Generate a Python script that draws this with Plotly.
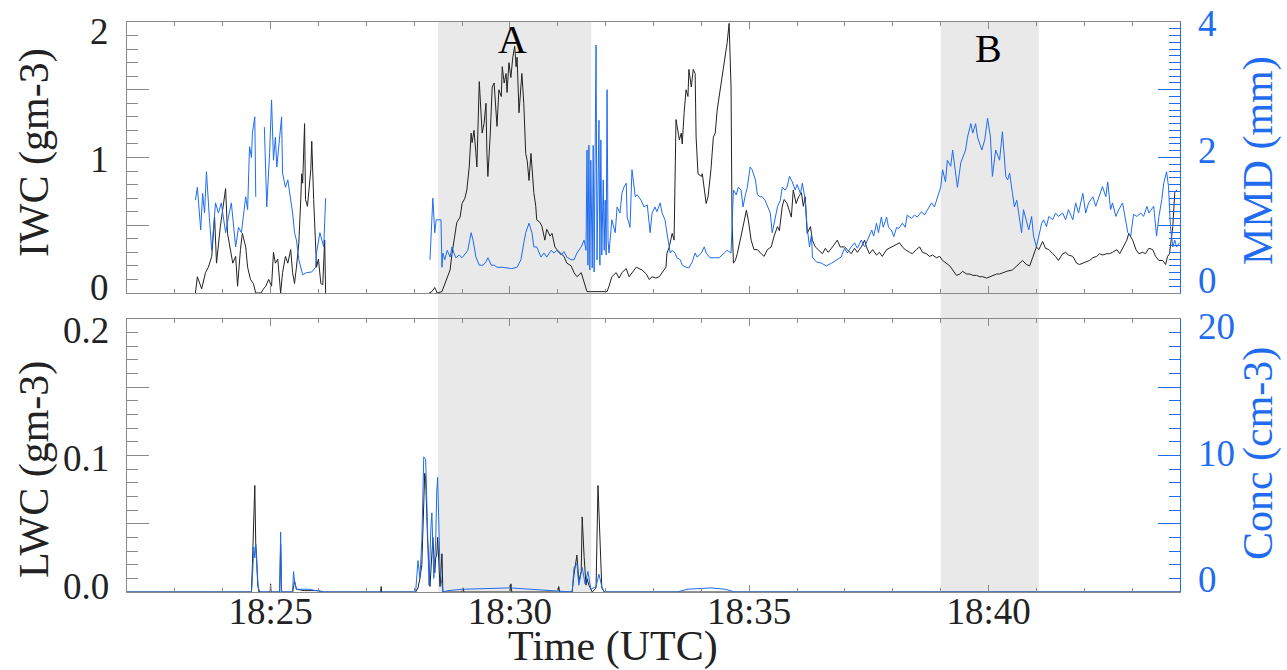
import plotly.graph_objects as go

# ---------------- data (time in minutes after 18:00 UTC) ----------------
iwc_samples = [
    (23.43, 0.00), (23.47, 0.12), (23.56, 0.03), (23.64, 0.15), (23.70, 0.19), (23.77, 0.27),
    (23.83, 0.56), (23.87, 0.22), (23.95, 0.49), (24.00, 0.61), (24.06, 0.77), (24.10, 0.44),
    (24.16, 0.30), (24.21, 0.22), (24.27, 0.27), (24.31, 0.05), (24.37, 0.32), (24.41, 0.44),
    (24.48, 0.34), (24.52, 0.19), (24.58, 0.10), (24.64, 0.07), (24.69, 0.00), (24.80, 0.00),
    (24.85, 0.03), (24.90, 0.05), (24.96, 0.10), (25.02, 0.05), (25.06, 0.30), (25.10, 0.22),
    (25.15, 0.25), (25.21, 0.00), (25.25, 0.15), (25.31, 0.27), (25.36, 0.22), (25.42, 0.32),
    (25.46, 0.15), (25.50, 0.07), (25.54, 0.19), (25.59, 0.37), (25.63, 0.69), (25.65, 0.88),
    (25.67, 0.81), (25.71, 1.25), (25.73, 0.69), (25.77, 0.64), (25.84, 0.91), (25.86, 1.12),
    (25.90, 0.69), (25.94, 0.39), (25.96, 0.19), (26.00, 0.25), (26.05, 0.07), (26.09, 0.06),
    (26.13, 0.39), (26.15, 0.00), (None, None),
    (28.31, 0.00), (28.37, 0.01), (28.43, 0.04), (28.48, 0.00), (28.58, 0.01), (28.62, 0.05),
    (28.69, 0.11), (28.75, 0.17), (28.79, 0.29), (28.85, 0.42), (28.89, 0.52), (28.96, 0.56),
    (29.00, 0.66), (29.06, 0.70), (29.10, 0.76), (29.15, 0.93), (29.19, 1.18), (29.21, 1.11),
    (29.25, 1.20), (29.29, 1.03), (29.31, 0.93), (29.36, 1.56), (29.40, 1.28), (29.42, 1.18),
    (29.46, 1.25), (29.50, 1.40), (29.52, 1.03), (29.54, 0.86), (29.59, 1.18), (29.63, 1.52),
    (29.67, 1.55), (29.71, 1.37), (29.73, 1.23), (29.77, 1.50), (29.82, 1.45), (29.84, 1.67),
    (29.88, 1.55), (29.92, 1.62), (29.94, 1.48), (29.98, 1.70), (30.02, 1.59), (30.06, 1.74),
    (30.10, 1.82), (30.13, 1.67), (30.15, 1.74), (30.19, 1.33), (30.23, 1.52), (30.25, 1.62),
    (30.29, 1.40), (30.33, 1.03), (30.36, 0.98), (30.40, 0.83), (30.44, 1.03), (30.46, 0.93),
    (30.50, 0.74), (30.54, 0.64), (30.56, 0.54), (30.63, 0.52), (30.67, 0.49), (30.73, 0.39),
    (30.77, 0.47), (30.84, 0.42), (30.88, 0.44), (30.94, 0.34), (30.98, 0.32), (31.07, 0.29),
    (31.13, 0.27), (31.19, 0.22), (31.28, 0.20), (31.34, 0.15), (31.40, 0.12), (31.49, 0.15),
    (31.55, 0.07), (31.61, 0.01), (31.69, 0.01), (31.90, 0.01), (32.03, 0.01), (32.07, 0.05),
    (32.13, 0.12), (32.22, 0.15), (32.28, 0.11), (32.34, 0.15), (32.43, 0.18), (32.49, 0.12),
    (32.55, 0.15), (32.64, 0.19), (32.70, 0.18), (32.76, 0.17), (32.85, 0.14), (32.91, 0.10),
    (32.97, 0.12), (33.05, 0.11), (33.12, 0.12), (33.18, 0.15), (33.26, 0.19), (33.28, 0.29),
    (33.33, 0.34), (33.39, 0.44), (33.43, 0.39), (33.47, 1.28), (33.49, 1.23), (33.54, 1.13),
    (33.58, 1.18), (33.60, 1.10), (33.64, 1.33), (33.68, 1.50), (33.72, 1.45), (33.74, 1.65),
    (33.79, 1.52), (33.83, 1.65), (33.87, 1.62), (33.89, 1.15), (33.93, 0.88), (34.00, 0.86),
    (34.02, 0.88), (34.08, 0.74), (34.10, 0.66), (34.14, 0.71), (34.20, 0.91), (34.25, 1.15),
    (34.29, 1.18), (34.33, 1.35), (34.39, 1.50), (34.44, 1.59), (34.48, 1.69), (34.52, 1.79),
    (34.54, 1.85), (34.58, 1.99), (34.62, 1.52), (34.64, 0.54), (34.67, 0.22), (34.71, 0.24),
    (34.75, 0.29), (34.83, 0.42), (34.90, 0.54), (34.94, 0.61), (34.98, 0.54), (35.04, 0.39),
    (35.10, 0.32), (35.17, 0.32), (35.25, 0.29), (35.31, 0.27), (35.38, 0.32), (35.46, 0.34),
    (35.52, 0.42), (35.59, 0.49), (35.63, 0.46), (35.69, 0.64), (35.73, 0.69), (35.79, 0.66),
    (35.88, 0.56), (35.92, 0.76), (35.98, 0.66), (36.03, 0.71), (36.09, 0.74), (36.13, 0.64),
    (36.17, 0.71), (36.21, 0.44), (36.28, 0.49), (36.32, 0.39), (36.38, 0.34), (36.44, 0.32),
    (36.53, 0.29), (36.59, 0.33), (36.65, 0.30), (36.74, 0.34), (36.80, 0.37), (36.84, 0.39),
    (36.90, 0.34), (36.99, 0.34), (37.05, 0.32), (37.13, 0.29), (37.20, 0.33), (37.26, 0.30),
    (37.34, 0.34), (37.41, 0.39), (37.45, 0.34), (37.51, 0.29), (37.58, 0.32), (37.66, 0.28),
    (37.72, 0.30), (37.78, 0.27), (37.87, 0.32), (37.93, 0.33), (37.99, 0.34), (38.08, 0.36),
    (38.14, 0.37), (38.20, 0.34), (38.26, 0.32), (38.35, 0.30), (38.41, 0.29), (38.49, 0.32),
    (38.56, 0.34), (38.62, 0.30), (38.70, 0.29), (38.77, 0.27), (38.83, 0.28), (38.91, 0.26),
    (38.98, 0.27), (39.04, 0.24), (39.12, 0.22), (39.19, 0.20), (39.25, 0.17), (39.33, 0.13),
    (39.40, 0.14), (39.46, 0.16), (39.54, 0.14), (39.61, 0.14), (39.67, 0.13), (39.75, 0.13),
    (39.82, 0.12), (39.88, 0.12), (39.96, 0.11), (40.02, 0.12), (40.08, 0.13), (40.17, 0.14),
    (40.23, 0.14), (40.38, 0.16), (40.50, 0.17), (40.65, 0.22), (40.71, 0.24), (40.79, 0.21),
    (40.86, 0.20), (40.92, 0.26), (41.00, 0.34), (41.05, 0.32), (41.13, 0.38), (41.19, 0.33),
    (41.26, 0.32), (41.34, 0.29), (41.40, 0.27), (41.46, 0.24), (41.55, 0.29), (41.61, 0.30),
    (41.67, 0.28), (41.76, 0.27), (41.84, 0.22), (41.90, 0.21), (41.97, 0.22), (42.05, 0.23),
    (42.11, 0.24), (42.18, 0.26), (42.26, 0.27), (42.32, 0.29), (42.38, 0.28), (42.47, 0.29),
    (42.53, 0.29), (42.59, 0.30), (42.68, 0.32), (42.74, 0.29), (42.80, 0.33), (42.89, 0.39),
    (42.93, 0.44), (43.01, 0.39), (43.08, 0.32), (43.14, 0.29), (43.22, 0.30), (43.28, 0.29),
    (43.35, 0.33), (43.43, 0.32), (43.49, 0.27), (43.56, 0.24), (43.64, 0.24), (43.70, 0.21),
    (43.74, 0.27), (43.78, 0.29), (43.85, 0.49), (43.89, 0.74), (43.93, 0.76),
]

mmd_samples = [
    (23.43, 1.37), (23.47, 1.56), (23.54, 0.93), (23.58, 1.47), (23.62, 1.18), (23.66, 1.79),
    (23.72, 1.12), (23.77, 0.63), (23.85, 1.33), (23.91, 1.18), (23.97, 1.33), (24.06, 0.89),
    (24.12, 1.12), (24.18, 1.33), (24.27, 0.68), (24.33, 0.97), (24.39, 0.89), (24.48, 1.42),
    (24.52, 1.23), (24.56, 2.16), (24.60, 2.00), (24.62, 2.36), (24.67, 2.60), (24.69, 1.42),
    (None, None),
    (24.87, 2.45), (24.92, 1.27), (24.98, 2.07), (25.02, 2.85), (25.06, 1.96), (25.10, 2.30),
    (25.13, 1.86), (25.17, 2.21), (25.23, 2.60), (25.25, 1.77), (25.31, 1.56), (25.36, 1.67),
    (25.42, 1.37), (25.46, 1.18), (25.50, 0.89), (25.54, 0.78), (25.59, 0.49), (25.63, 0.38),
    (25.67, 0.27), (25.75, 0.30), (25.86, 0.31), (25.94, 0.38), (25.96, 0.59), (26.03, 0.89),
    (26.07, 0.78), (26.11, 0.68), (26.15, 1.40), (None, None),
    (28.33, 0.49), (28.37, 1.12), (28.39, 1.40), (28.43, 0.89), (28.46, 1.08), (28.50, 1.08),
    (28.56, 1.08), (28.58, 0.38), (28.60, 0.59), (28.64, 0.49), (28.69, 0.63), (28.75, 0.53),
    (28.79, 0.68), (28.83, 0.59), (28.87, 0.52), (28.94, 0.56), (29.00, 0.52), (29.08, 0.59),
    (29.12, 0.63), (29.19, 0.89), (29.23, 0.78), (29.29, 0.53), (29.36, 0.41), (29.44, 0.41),
    (29.50, 0.46), (29.54, 0.52), (29.61, 0.41), (29.67, 0.41), (29.73, 0.38), (29.84, 0.38),
    (29.94, 0.37), (30.04, 0.36), (30.15, 0.38), (30.23, 0.49), (30.29, 0.74), (30.33, 0.89),
    (30.40, 1.03), (30.46, 0.89), (30.50, 0.68), (30.56, 0.68), (30.65, 0.53), (30.71, 0.59),
    (30.77, 0.53), (30.86, 0.63), (30.92, 0.59), (30.98, 0.63), (31.07, 0.56), (31.13, 0.61),
    (31.19, 0.53), (31.28, 0.49), (31.34, 0.49), (31.40, 0.59), (31.49, 0.68), (31.55, 0.78),
    (31.59, 0.63), (31.61, 2.11), (31.63, 0.41), (31.65, 2.18), (31.67, 0.34), (31.69, 1.96),
    (31.72, 0.37), (31.74, 2.18), (31.76, 0.31), (31.78, 1.96), (31.80, 3.66), (31.82, 0.49),
    (31.84, 1.82), (31.86, 2.55), (31.88, 0.41), (31.90, 2.26), (31.92, 0.56), (31.95, 1.67),
    (31.97, 0.63), (31.99, 1.37), (32.01, 0.56), (32.03, 3.00), (32.05, 0.78), (32.07, 0.59),
    (32.13, 1.08), (32.20, 0.89), (32.24, 1.27), (32.30, 1.18), (32.34, 1.47), (32.38, 1.56),
    (32.43, 1.62), (32.45, 1.12), (32.51, 0.97), (32.55, 1.82), (32.62, 1.42), (32.66, 1.45),
    (32.74, 1.37), (32.80, 1.27), (32.87, 1.30), (32.93, 0.89), (32.97, 1.18), (33.03, 1.27),
    (33.07, 1.20), (33.14, 1.33), (33.18, 1.18), (33.24, 1.08), (33.28, 0.89), (33.35, 0.59),
    (33.39, 0.63), (33.45, 0.59), (33.49, 0.52), (33.56, 0.49), (33.60, 0.41), (33.68, 0.38),
    (33.74, 0.37), (33.81, 0.46), (33.87, 0.59), (33.91, 0.53), (34.00, 0.59), (34.06, 0.68),
    (34.10, 0.59), (34.18, 0.52), (34.27, 0.52), (34.37, 0.52), (34.48, 0.59), (34.54, 0.63),
    (34.62, 0.59), (34.67, 1.52), (34.73, 1.45), (34.77, 1.56), (34.83, 1.52), (34.87, 1.27),
    (34.92, 1.45), (34.96, 1.56), (35.02, 1.86), (35.06, 1.82), (35.13, 1.67), (35.17, 1.45),
    (35.23, 1.42), (35.27, 1.42), (35.33, 1.37), (35.38, 1.27), (35.44, 1.18), (35.48, 0.89),
    (35.54, 1.08), (35.59, 1.27), (35.65, 1.37), (35.69, 1.56), (35.75, 1.52), (35.79, 1.56),
    (35.84, 1.72), (35.90, 1.64), (35.96, 1.52), (36.00, 1.60), (36.07, 1.47), (36.11, 1.62),
    (36.17, 1.37), (36.21, 0.97), (36.26, 0.68), (36.30, 0.86), (36.32, 0.53), (36.40, 0.46),
    (36.51, 0.44), (36.61, 0.40), (36.72, 0.44), (36.82, 0.49), (36.92, 0.53), (36.99, 0.66),
    (37.05, 0.59), (37.13, 0.68), (37.20, 0.74), (37.26, 0.66), (37.34, 0.78), (37.41, 0.68),
    (37.47, 0.78), (37.56, 0.93), (37.60, 0.84), (37.66, 1.03), (37.70, 0.89), (37.76, 1.12),
    (37.80, 0.97), (37.87, 1.12), (37.91, 0.97), (37.97, 0.93), (38.02, 0.83), (38.08, 0.97),
    (38.12, 0.95), (38.20, 1.03), (38.26, 0.97), (38.30, 1.15), (38.39, 1.10), (38.45, 1.15),
    (38.51, 1.12), (38.60, 1.20), (38.66, 1.15), (38.72, 1.22), (38.81, 1.33), (38.87, 1.27),
    (38.93, 1.40), (39.00, 1.56), (39.04, 1.82), (39.10, 1.64), (39.14, 1.96), (39.21, 1.87),
    (39.25, 2.11), (39.31, 1.77), (39.35, 1.56), (39.42, 1.92), (39.46, 2.00), (39.52, 2.11),
    (39.56, 2.30), (39.63, 2.50), (39.67, 2.36), (39.73, 2.50), (39.77, 2.30), (39.86, 2.11),
    (39.92, 2.26), (39.98, 2.58), (40.04, 2.30), (40.08, 1.72), (40.15, 2.11), (40.23, 1.96),
    (40.29, 2.38), (40.36, 1.72), (40.40, 1.67), (40.44, 1.77), (40.50, 1.47), (40.54, 1.27),
    (40.59, 1.37), (40.63, 1.18), (40.69, 0.89), (40.73, 1.23), (40.79, 1.08), (40.84, 0.93),
    (40.90, 1.13), (40.94, 0.84), (41.00, 0.68), (41.05, 0.84), (41.11, 1.03), (41.15, 1.08),
    (41.21, 0.98), (41.26, 1.13), (41.34, 1.08), (41.40, 1.18), (41.46, 1.13), (41.55, 1.18),
    (41.61, 1.08), (41.67, 1.23), (41.76, 1.08), (41.82, 1.33), (41.88, 1.18), (41.97, 1.47),
    (42.03, 1.18), (42.09, 1.33), (42.18, 1.42), (42.24, 1.28), (42.30, 1.42), (42.38, 1.57),
    (42.45, 1.42), (42.49, 1.64), (42.55, 1.23), (42.59, 1.33), (42.66, 1.13), (42.72, 1.23),
    (42.80, 1.33), (42.87, 1.08), (42.91, 0.89), (42.97, 0.84), (43.03, 1.16), (43.10, 1.13),
    (43.18, 1.18), (43.24, 1.13), (43.31, 1.28), (43.35, 1.18), (43.41, 1.23), (43.45, 1.28),
    (43.51, 0.84), (43.56, 1.13), (43.62, 1.38), (43.66, 1.62), (43.72, 1.79), (43.76, 1.57),
    (43.80, 0.98), (43.85, 0.68), (43.89, 0.78), (43.93, 0.68), (43.99, 0.74),
]

lwc_samples = [
    (22.00, 0.0), (24.60, 0.0), (24.62, 0.020), (24.67, 0.078), (24.69, 0.035), (24.71, 0.025),
    (24.73, 0.005), (24.77, 0.0), (24.99, 0.0), (25.00, 0.006), (25.01, 0.0), (25.19, 0.0),
    (25.21, 0.035), (25.23, 0.0), (25.46, 0.0), (25.50, 0.008), (25.54, 0.002), (25.70, 0.001),
    (26.00, 0.001), (26.11, 0.0), (27.30, 0.0), (27.31, 0.004), (27.32, 0.0), (28.03, 0.0),
    (28.08, 0.003), (28.12, 0.010), (28.16, 0.020), (28.22, 0.087), (28.24, 0.083), (28.28, 0.038),
    (28.33, 0.004), (28.37, 0.033), (28.39, 0.040), (28.43, 0.014), (28.45, 0.025), (28.47, 0.027),
    (28.49, 0.040), (28.54, 0.004), (28.58, 0.028), (28.60, 0.0), (29.00, 0.0), (29.02, 0.003),
    (29.04, 0.0), (30.00, 0.0), (30.02, 0.006), (30.04, 0.0), (31.00, 0.0), (31.02, 0.004),
    (31.04, 0.0), (31.30, 0.0), (31.34, 0.013), (31.40, 0.027), (31.44, 0.008), (31.49, 0.015),
    (31.51, 0.055), (31.55, 0.026), (31.59, 0.005), (31.61, 0.010), (31.65, 0.005), (31.72, 0.0),
    (31.80, 0.003), (31.84, 0.078), (31.88, 0.040), (31.92, 0.003), (31.97, 0.0), (44.00, 0.0),
]

conc_samples = [
    (22.00, 0.0), (24.60, 0.0), (24.62, 1.0), (24.65, 3.3), (24.67, 2.5), (24.69, 3.5),
    (24.71, 2.0), (24.75, 0.0), (25.19, 0.0), (25.21, 4.4), (25.23, 0.0), (25.46, 0.0),
    (25.48, 1.5), (25.50, 0.8), (25.54, 0.2), (25.60, 0.2), (25.80, 0.2), (26.11, 0.0),
    (28.03, 0.0), (28.08, 2.3), (28.12, 1.0), (28.16, 3.8), (28.20, 9.9), (28.24, 9.7),
    (28.26, 7.5), (28.31, 0.5), (28.35, 4.8), (28.37, 5.8), (28.41, 1.0), (28.45, 3.8),
    (28.47, 7.2), (28.49, 8.4), (28.54, 1.6), (28.58, 0.5), (28.60, 0.0), (28.70, 0.1),
    (29.00, 0.2), (30.00, 0.3), (30.50, 0.2), (31.00, 0.1), (31.30, 0.0), (31.34, 1.8),
    (31.40, 2.1), (31.44, 0.5), (31.49, 1.3), (31.51, 1.8), (31.57, 0.6), (31.63, 1.5),
    (31.69, 0.2), (31.80, 0.4), (31.86, 1.3), (31.92, 0.4), (31.97, 0.0), (33.50, 0.0),
    (33.70, 0.2), (34.20, 0.3), (34.50, 0.2), (34.70, 0.0), (44.00, 0.0),
]

time_ticks = [25, 30, 35, 40]
time_labels = ["18:25", "18:30", "18:35", "18:40"]

iwc_ticks = [0, 0.5, 1, 1.5, 2]
iwc_labels = {0: "0", 1: "1", 2: "2"}
mmd_ticks = [0, 1, 2, 3, 4]
mmd_labels = {0: "0", 2: "2", 4: "4"}
lwc_ticks = [0, 0.05, 0.1, 0.15, 0.2]
lwc_labels = {0: "0.0", 0.1: "0.1", 0.2: "0.2"}
conc_ticks = [0, 5, 10, 15, 20]
conc_labels = {0: "0", 10: "10", 20: "20"}

regions = [("A", 28.5, 31.7, 30.05), ("B", 39.0, 41.05, 40.0)]

# ---------------- styling ----------------
BLUE = "#1f6cf0"
BLACK = "#222222"
AXGRAY = "#8a8a8a"
FONT = "Liberation Serif"
TICKSIZE = 37
TITLESIZE = 42

# vertical pixel nudges of the value labels (the original staggers its end labels inward)
NUDGE_LEFT_TOP = [5.5, -2.5, -9]
NUDGE_RIGHT_TOP = [12, 6.5, -1]
NUDGE_LEFT_BOT = [6, -3.5, -12]
NUDGE_RIGHT_BOT = [13, 1.5, -8]


def split(samples):
    return [s[0] for s in samples], [s[1] for s in samples]


fig = go.Figure()

t, v = split(mmd_samples)
fig.add_trace(go.Scatter(x=t, y=v, mode="lines", line=dict(color=BLUE, width=1),
                         xaxis="x", yaxis="y2", connectgaps=False, showlegend=False))
t, v = split(iwc_samples)
fig.add_trace(go.Scatter(x=t, y=v, mode="lines", line=dict(color=BLACK, width=1),
                         xaxis="x", yaxis="y", connectgaps=False, showlegend=False))
t, v = split(lwc_samples)
fig.add_trace(go.Scatter(x=t, y=v, mode="lines", line=dict(color=BLACK, width=1),
                         xaxis="x2", yaxis="y3", showlegend=False))
t, v = split(conc_samples)
fig.add_trace(go.Scatter(x=t, y=v, mode="lines", line=dict(color=BLUE, width=1),
                         xaxis="x2", yaxis="y4", showlegend=False))

xcommon = dict(range=[22, 44], tickmode="array", tickvals=time_ticks, ticktext=time_labels,
               ticks="inside", ticklen=7, tickcolor=AXGRAY, showline=True, linecolor=AXGRAY,
               linewidth=1, mirror="ticks", showgrid=False, zeroline=False,
               minor=dict(tickmode="linear", tick0=22, dtick=1, ticks="inside", ticklen=4,
                          tickcolor=AXGRAY, showgrid=False),
               tickfont=dict(family=FONT, size=TICKSIZE, color=BLACK))


def yaxis(rng, vals, minor_dtick, linecolor, side, domain=None, overlay=None, anchor="x"):
    d = dict(range=rng, tickmode="array", tickvals=vals, showticklabels=False, ticks="inside",
             ticklen=22, tickcolor=linecolor, showline=True, linecolor=linecolor, linewidth=1,
             showgrid=False, zeroline=False, side=side, anchor=anchor,
             minor=dict(tickmode="linear", tick0=0, dtick=minor_dtick, ticks="inside",
                        ticklen=11, tickcolor=linecolor, showgrid=False))
    if domain is not None:
        d["domain"] = domain
    if overlay is not None:
        d["overlaying"] = overlay
    return d


top_dom = [0.5246, 1.0]
bot_dom = [0.0, 0.479]

fig.update_layout(
    width=1287, height=670,
    margin=dict(l=127, r=107, t=22, b=78),
    paper_bgcolor="white", plot_bgcolor="white",
    showlegend=False,
    xaxis=dict(xcommon, anchor="y", showticklabels=False),
    xaxis2=dict(xcommon, anchor="y3", matches="x", ticklabelstandoff=-13),
    yaxis=yaxis([0, 2], iwc_ticks, 0.1, AXGRAY, "left", domain=top_dom, anchor="x"),
    yaxis2=yaxis([0, 4], mmd_ticks, 0.1, BLUE, "right", overlay="y", anchor="x"),
    yaxis3=yaxis([0, 0.2], lwc_ticks, 0.01, AXGRAY, "left", domain=bot_dom, anchor="x2"),
    yaxis4=yaxis([0, 20], conc_ticks, 1, BLUE, "right", overlay="y3", anchor="x2"),
)

shapes = []
annotations = []
for name, t0, t1, tc in regions:
    shapes.append(dict(type="rect", xref="x", yref="paper", x0=t0, x1=t1, y0=0, y1=1,
                       fillcolor="#e9e9e9", line=dict(width=0), layer="below"))

annotations.append(dict(text=regions[0][0], xref="x", yref="paper", x=regions[0][3], y=0.970,
                        showarrow=False, font=dict(family=FONT, size=40, color="black"),
                        xanchor="center", yanchor="middle"))
annotations.append(dict(text=regions[1][0], xref="x", yref="paper", x=regions[1][3], y=0.954,
                        showarrow=False, font=dict(family=FONT, size=40, color="black"),
                        xanchor="center", yanchor="middle"))

# value labels of the four y axes
label_sets = [
    (iwc_labels, "y", -0.0161, "right", BLACK, NUDGE_LEFT_TOP),
    (mmd_labels, "y2", 1.0161, "left", BLUE, NUDGE_RIGHT_TOP),
    (lwc_labels, "y3", -0.0161, "right", BLACK, NUDGE_LEFT_BOT),
    (conc_labels, "y4", 1.0161, "left", BLUE, NUDGE_RIGHT_BOT),
]
for labels, yref, xpos, anchor, col, nudges in label_sets:
    for (val, text), dy in zip(labels.items(), nudges):
        annotations.append(dict(text=text, xref="paper", yref=yref, x=xpos, y=val,
                                yshift=dy, showarrow=False, xanchor=anchor, yanchor="middle",
                                borderpad=0,
                                font=dict(family=FONT, size=TICKSIZE, color=col)))

titles = [
    ("IWC (gm-3)", -0.0883, 0.770, -90, BLACK),
    ("LWC (gm-3)", -0.0883, 0.214, -90, BLACK),
    ("MMD (mm)", 1.0741, 0.756, -90, BLUE),
    ("Conc (cm-3)", 1.0741, 0.242, -90, BLUE),
    ("Time (UTC)", 0.4615, -0.096, 0, BLACK),
]
for text, x, y, ang, col in titles:
    annotations.append(dict(text=text, xref="paper", yref="paper", x=x, y=y, showarrow=False,
                            textangle=ang, xanchor="center", yanchor="middle",
                            font=dict(family=FONT, size=TITLESIZE, color=col)))

fig.update_layout(shapes=shapes, annotations=annotations)
# remove the browser's default 8px page margin so the figure fills the window exactly
fig.write_html("out.html", config={"displayModeBar": False},
               post_script="document.body.style.margin='0px';")
